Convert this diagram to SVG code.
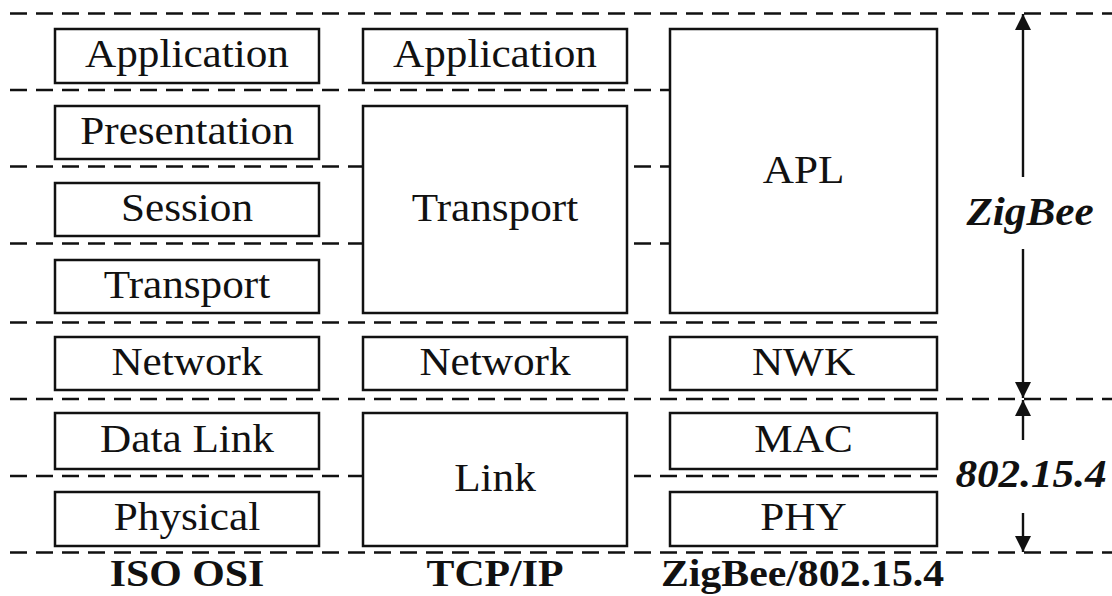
<svg xmlns="http://www.w3.org/2000/svg" width="1112" height="596" viewBox="0 0 1112 596">
<style>
.dash{stroke:#111;stroke-width:2.4;stroke-dasharray:17 9;fill:none}
.box{fill:#fff;stroke:#111;stroke-width:2.5}
.t{font-family:"Liberation Serif","Times New Roman",serif;font-size:40px;fill:#111;text-anchor:middle}
.b{font-weight:bold;font-size:38px}
.bi{font-weight:bold;font-style:italic}
.arr{stroke:#111;stroke-width:2.4;fill:none}
</style>
<defs>
<marker id="ah" markerWidth="16" markerHeight="16" refX="16" refY="8" orient="auto" markerUnits="userSpaceOnUse" viewBox="0 0 16 16">
<path d="M0,0 L16,8 L0,16 Z" fill="#111"/>
</marker>
</defs>
<g id="connectors">
<line class="dash" x1="10" y1="13.5" x2="1112" y2="13.5"/>
<line class="dash" x1="10" y1="90" x2="940" y2="90"/>
<line class="dash" x1="10" y1="166.5" x2="940" y2="166.5"/>
<line class="dash" x1="10" y1="243.5" x2="940" y2="243.5"/>
<line class="dash" x1="10" y1="322.5" x2="940" y2="322.5"/>
<line class="dash" x1="10" y1="399" x2="1112" y2="399"/>
<line class="dash" x1="10" y1="476" x2="940" y2="476"/>
<line class="dash" x1="10" y1="552.5" x2="1112" y2="552.5"/>
<line class="arr" x1="1023" y1="177" x2="1023" y2="14" marker-end="url(#ah)"/>
<line class="arr" x1="1023" y1="249" x2="1023" y2="398" marker-end="url(#ah)"/>
<line class="arr" x1="1023" y1="440" x2="1023" y2="400" marker-end="url(#ah)"/>
<line class="arr" x1="1023" y1="513" x2="1023" y2="552" marker-end="url(#ah)"/>
</g>
<g id="osi-application"><rect class="box" x="55" y="29" width="264" height="54"/><text class="t" transform="translate(187,67) scale(1.08,1)">Application</text></g>
<g id="osi-presentation"><rect class="box" x="55" y="106" width="264" height="53"/><text class="t" transform="translate(187,143.5) scale(1.08,1)">Presentation</text></g>
<g id="osi-session"><rect class="box" x="55" y="183" width="264" height="53"/><text class="t" transform="translate(187,220.5) scale(1.08,1)">Session</text></g>
<g id="osi-transport"><rect class="box" x="55" y="260" width="264" height="53"/><text class="t" transform="translate(187,297.5) scale(1.08,1)">Transport</text></g>
<g id="osi-network"><rect class="box" x="55" y="337" width="264" height="53"/><text class="t" transform="translate(187,374.5) scale(1.08,1)">Network</text></g>
<g id="osi-datalink"><rect class="box" x="55" y="413" width="264" height="56"/><text class="t" transform="translate(187,452) scale(1.08,1)">Data Link</text></g>
<g id="osi-physical"><rect class="box" x="55" y="492" width="264" height="54"/><text class="t" transform="translate(187,530) scale(1.08,1)">Physical</text></g>
<g id="tcp-application"><rect class="box" x="363" y="29" width="264" height="54"/><text class="t" transform="translate(495,67) scale(1.08,1)">Application</text></g>
<g id="tcp-transport"><rect class="box" x="363" y="106" width="264" height="207"/><text class="t" transform="translate(495,221) scale(1.08,1)">Transport</text></g>
<g id="tcp-network"><rect class="box" x="363" y="337" width="264" height="53"/><text class="t" transform="translate(495,374.5) scale(1.08,1)">Network</text></g>
<g id="tcp-link"><rect class="box" x="363" y="413" width="264" height="133"/><text class="t" transform="translate(495,491) scale(1.08,1)">Link</text></g>
<g id="zb-apl"><rect class="box" x="670" y="29" width="267" height="284"/><text class="t" transform="translate(803.5,183) scale(1.08,1)">APL</text></g>
<g id="zb-nwk"><rect class="box" x="670" y="337" width="267" height="53"/><text class="t" transform="translate(803.5,374.5) scale(1.08,1)">NWK</text></g>
<g id="zb-mac"><rect class="box" x="670" y="413" width="267" height="56"/><text class="t" transform="translate(803.5,452) scale(1.08,1)">MAC</text></g>
<g id="zb-phy"><rect class="box" x="670" y="492" width="267" height="54"/><text class="t" transform="translate(803.5,530) scale(1.08,1)">PHY</text></g>
<g id="label-zigbee"><text class="t bi" transform="translate(1030,225) scale(1.08,1)">ZigBee</text></g>
<g id="label-802"><text class="t bi" transform="translate(1031,487) scale(1.08,1)">802.15.4</text></g>
<g id="label-iso"><text class="t b" transform="translate(187,586) scale(1.1,1)">ISO OSI</text></g>
<g id="label-tcp"><text class="t b" transform="translate(495,586) scale(1.1,1)">TCP/IP</text></g>
<g id="label-zb"><text class="t b" transform="translate(802.5,586) scale(1.1,1)">ZigBee/802.15.4</text></g>
</svg>
